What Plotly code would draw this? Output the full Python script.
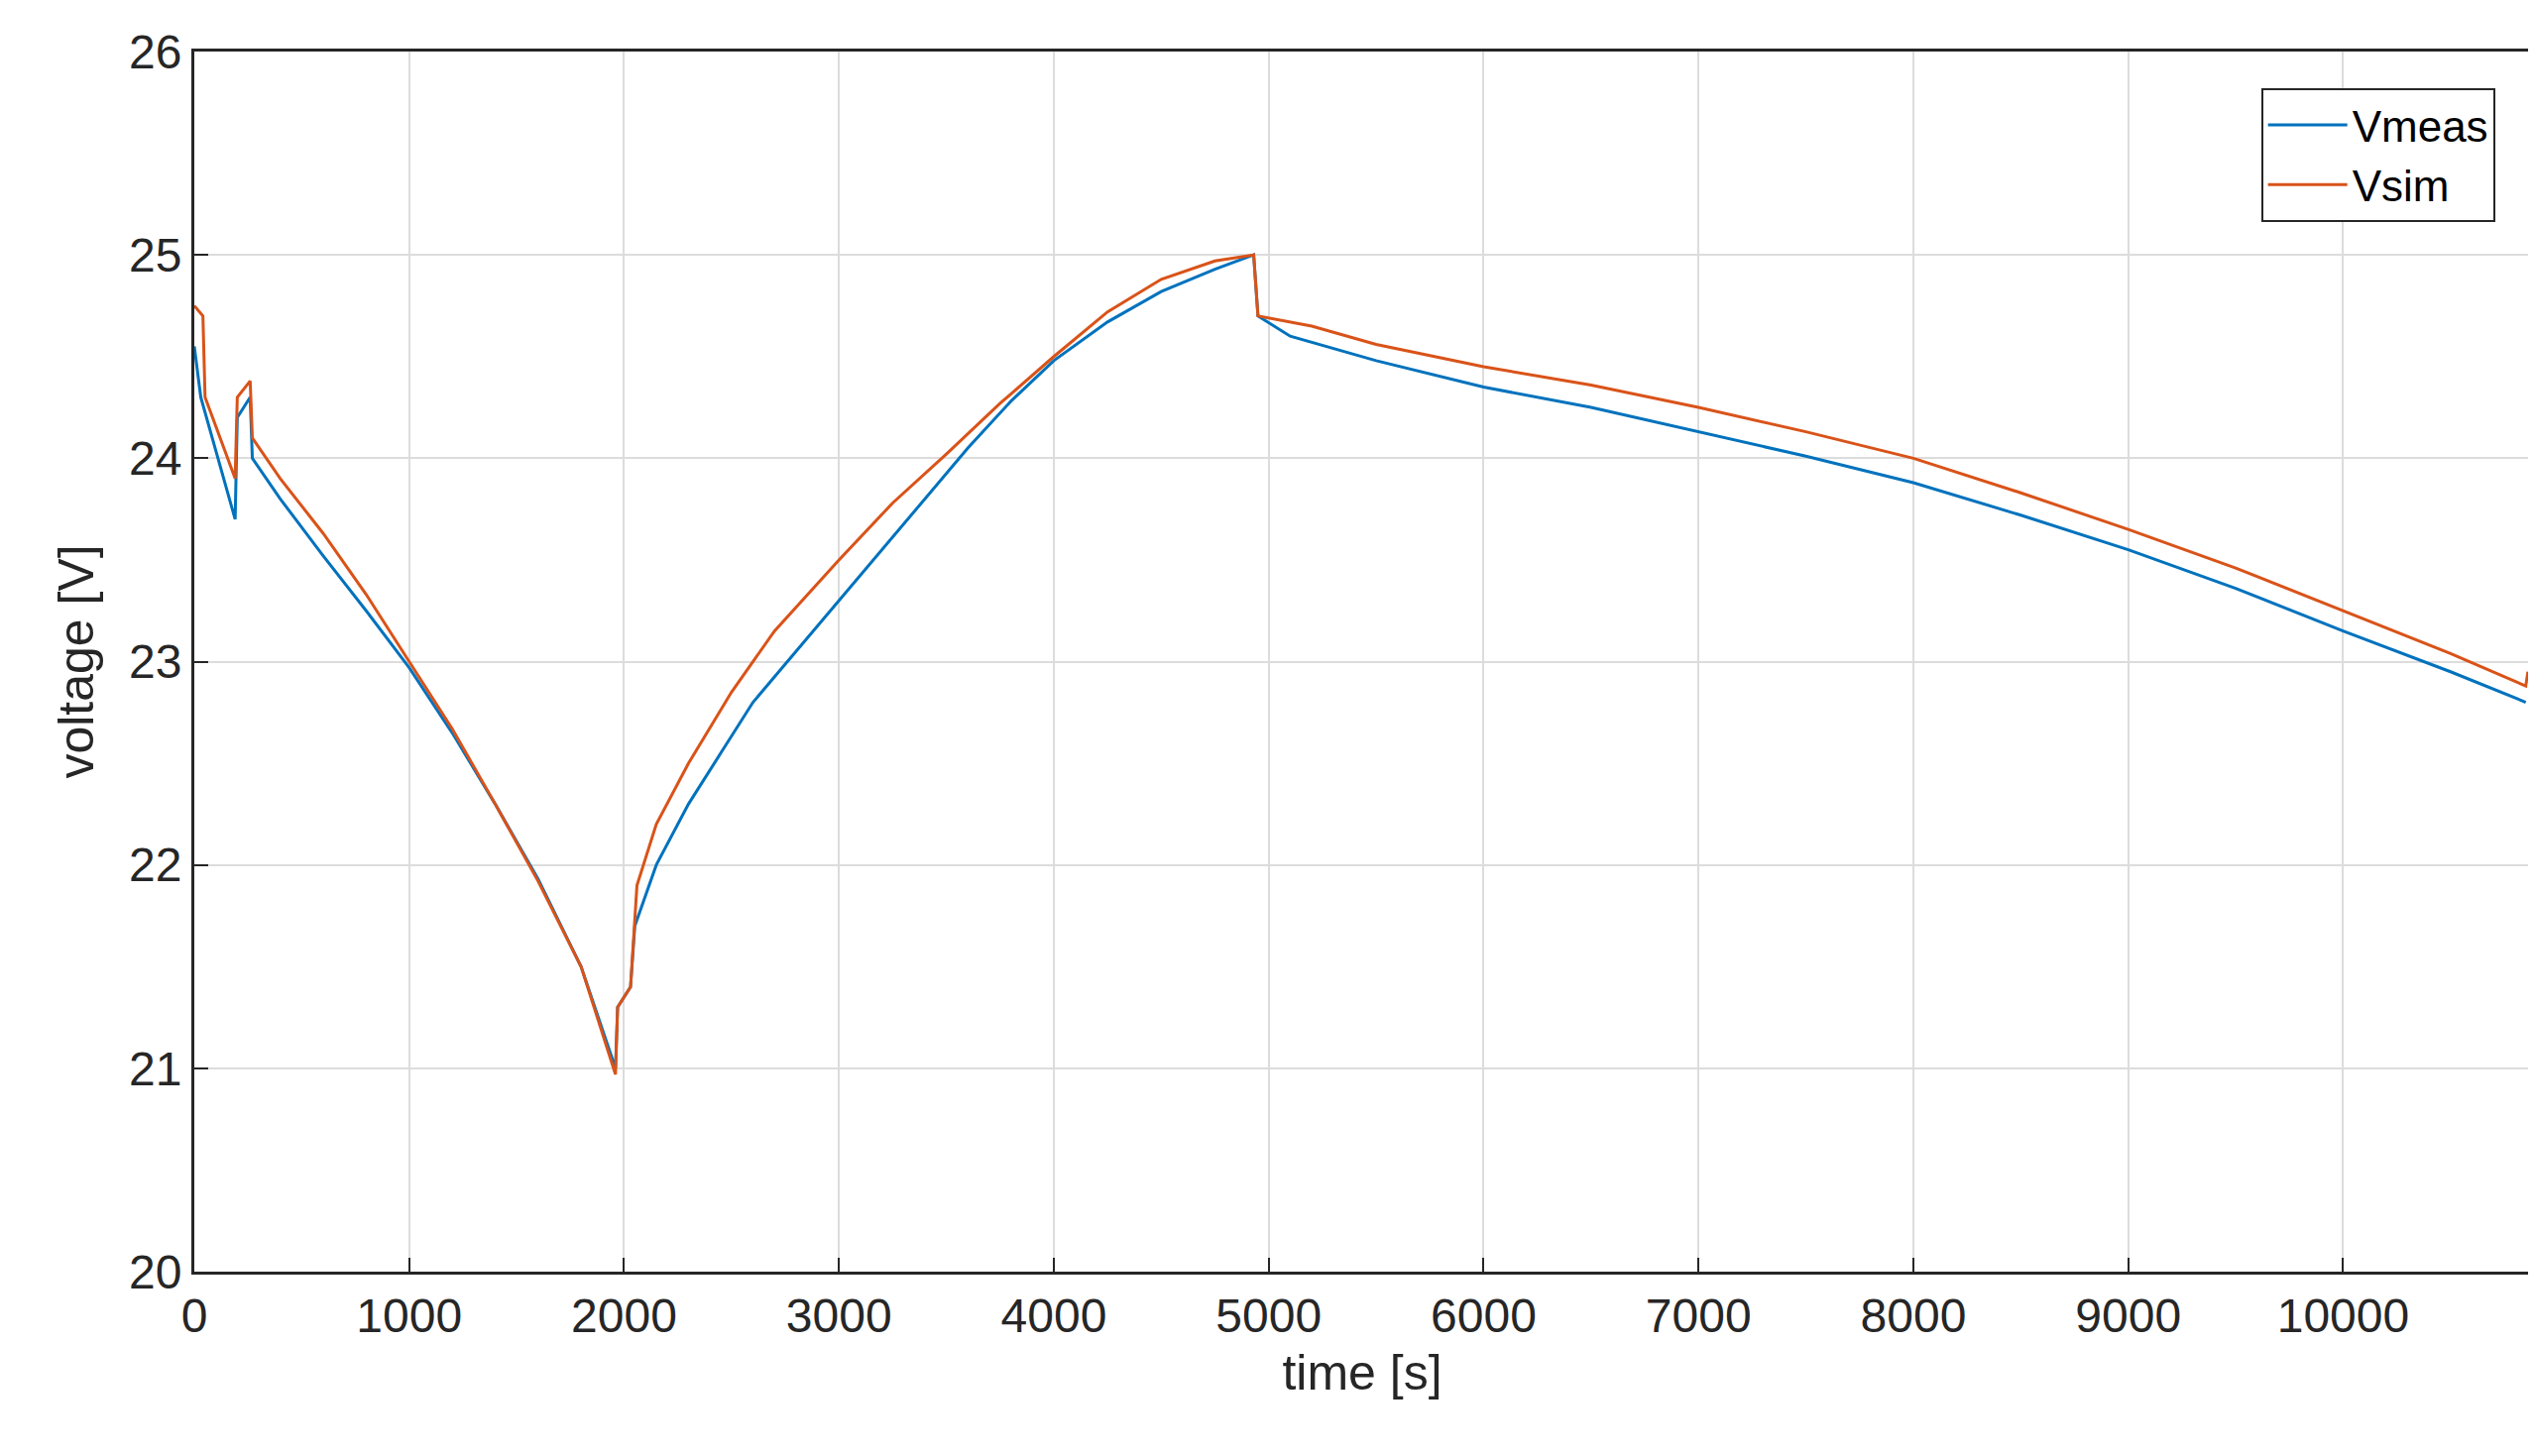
import plotly.graph_objects as go

# values
t_meas = [0, 30, 190, 200, 260, 270, 400, 600, 800, 1000, 1200, 1400, 1600, 1800, 1960, 1970, 2030, 2050, 2150,
          2300, 2450, 2600, 2800, 3000, 3200, 3400, 3600, 3800, 4000, 4250, 4500, 4750, 4930, 4950, 5100, 5500,
          6000, 6500, 7000, 7500, 8000, 8500, 9000, 9500, 10000, 10500, 10850]
v_meas = [24.55, 24.3, 23.7, 24.2, 24.3, 24.0, 23.8, 23.52, 23.25, 22.97, 22.65, 22.3, 21.93, 21.5, 21.0, 21.3, 21.4, 21.7, 22.0,
          22.3, 22.55, 22.8, 23.05, 23.3, 23.55, 23.8, 24.05, 24.28, 24.48, 24.67, 24.82, 24.93, 25.0, 24.7, 24.6, 24.48,
          24.35, 24.25, 24.13, 24.01, 23.88, 23.72, 23.55, 23.36, 23.15, 22.95, 22.8]

t_sim = [0, 40, 50, 190, 200, 260, 270, 400, 600, 800, 1000, 1200, 1400, 1600, 1800, 1960, 1970, 2030, 2060,
         2150, 2300, 2500, 2700, 3000, 3250, 3500, 3750, 4000, 4250, 4500, 4750, 4930, 4950, 5200, 5500,
         6000, 6500, 7000, 7500, 8000, 8500, 9000, 9500, 10000, 10500, 10850, 10860]
v_sim = [24.75, 24.7, 24.3, 23.9, 24.3, 24.38, 24.1, 23.9, 23.63, 23.33, 23.0, 22.67, 22.3, 21.92, 21.5, 20.97, 21.3, 21.4, 21.9,
         22.2, 22.5, 22.85, 23.15, 23.5, 23.78, 24.02, 24.27, 24.5, 24.72, 24.88, 24.97, 25.0, 24.7, 24.65, 24.56,
         24.45, 24.36, 24.25, 24.13, 24.0, 23.83, 23.65, 23.46, 23.25, 23.04, 22.88, 22.95]

x_ticks = list(range(0, 10001, 1000))
x_labels = [str(v) for v in x_ticks]
y_ticks = [20, 21, 22, 23, 24, 25, 26]

fig = go.Figure()
fig.add_trace(go.Scatter(x=t_meas, y=v_meas, mode='lines', name='Vmeas',
                         line=dict(color='#0072BD', width=3)))
fig.add_trace(go.Scatter(x=t_sim, y=v_sim, mode='lines', name='Vsim',
                         line=dict(color='#D95319', width=3)))

axis_style = dict(showgrid=True, gridcolor='#dcdcdc', gridwidth=2,
                  showline=True, linecolor='#262626', linewidth=3, mirror=True,
                  ticks='inside', ticklen=14, tickwidth=2, tickcolor='#262626',
                  zeroline=False, tickfont=dict(size=48, color='#262626'))

fig.update_layout(
    width=2558, height=1469,
    paper_bgcolor='white', plot_bgcolor='white',
    font=dict(family='Liberation Sans, Arial', color='#262626'),
    margin=dict(l=188, r=14, t=44, b=194),
    showlegend=True,
    legend=dict(x=0.985, y=0.97, xanchor='right', yanchor='top',
                bgcolor='white', bordercolor='#262626', borderwidth=2,
                itemwidth=80, font=dict(size=44, color='#000000')),
    xaxis=dict(range=[0, 10870], tickvals=x_ticks, ticktext=x_labels,
               title=dict(text='time [s]', font=dict(size=50)), **axis_style),
    yaxis=dict(range=[20, 26], tickvals=y_ticks,
               title=dict(text='voltage [V]', font=dict(size=50), standoff=20), **axis_style),
)

fig.write_html("out.html")
